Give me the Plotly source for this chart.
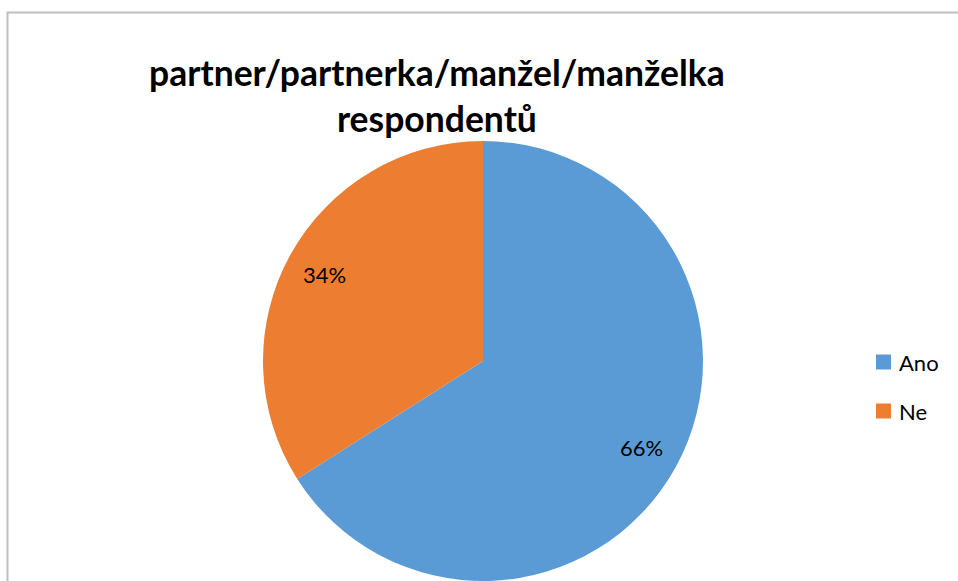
import math
import plotly.graph_objects as go

categories = ["Ano", "Ne"]
values = [66, 34]
colors = ["#5B9BD5", "#ED7D31"]
title_lines = ["partner/partnerka/manžel/manželka", "respondentů"]

W, H = 958, 581
FONT = "Lato"

cx_px, cy_px, r_px = 483, 361, 220
dom_x = [(cx_px - r_px) / W, (cx_px + r_px) / W]
dom_y = [1 - (cy_px + r_px) / H, 1 - (cy_px - r_px) / H]

fig = go.Figure(go.Pie(
    labels=categories,
    values=values,
    marker=dict(colors=colors, line=dict(color="white", width=0)),
    sort=False,
    direction="clockwise",
    rotation=0,
    textinfo="none",
    hoverinfo="label+percent",
    domain=dict(x=dom_x, y=dom_y),
    showlegend=False,
))

# percentage labels placed at ~0.82 of the radius along each slice's mid-angle
total = sum(values)
annotations = []
shapes = []
cum = 0
for v in values:
    mid = (cum + v / 2) / total * 2 * math.pi
    cum += v
    px = cx_px + 0.82 * r_px * math.sin(mid)
    py = cy_px - 0.82 * r_px * math.cos(mid)
    annotations.append(dict(
        x=px / W, y=1 - py / H, xref="paper", yref="paper",
        xanchor="center", yanchor="middle",
        text=f"{round(v / total * 100)}%", showarrow=False,
        font=dict(family=FONT, size=22, color="#000000"),
    ))

annotations.append(dict(
    x=437 / W, y=1 - 95 / H, xref="paper", yref="paper",
    text="<b>" + "<br>".join(title_lines) + "</b>", showarrow=False,
    font=dict(family=FONT, size=35.5, color="#000000"),
    align="center", xanchor="center", yanchor="middle",
))

# legend (drawn manually to reproduce the wide spacing)
leg_x, leg_y0, leg_dy, sq = 876, 362, 49, 15
for i, (lab, col) in enumerate(zip(categories, colors)):
    yc = leg_y0 + i * leg_dy
    shapes.append(dict(
        type="rect", xref="paper", yref="paper",
        x0=leg_x / W, x1=(leg_x + sq) / W,
        y0=1 - (yc + sq / 2) / H, y1=1 - (yc - sq / 2) / H,
        fillcolor=col, line=dict(width=0),
    ))
    annotations.append(dict(
        x=(leg_x + sq + 6) / W, y=1 - yc / H, xref="paper", yref="paper",
        text=lab, showarrow=False, xanchor="left", yanchor="middle",
        font=dict(family=FONT, size=22, color="#000000"),
    ))

shapes.append(dict(
    type="rect", xref="paper", yref="paper",
    x0=7.5 / W, x1=1.05, y0=-0.05, y1=1 - 12.5 / H,
    line=dict(color="#BFBFBF", width=2),
    fillcolor="rgba(0,0,0,0)", layer="below",
))

fig.update_layout(
    width=W, height=H,
    margin=dict(l=0, r=0, t=0, b=0),
    paper_bgcolor="white",
    plot_bgcolor="white",
    showlegend=False,
    annotations=annotations,
    shapes=shapes,
)

fig.write_html(
    "out.html",
    config={"displayModeBar": False},
    post_script="document.body.style.margin='0';document.body.style.overflow='hidden';",
)
